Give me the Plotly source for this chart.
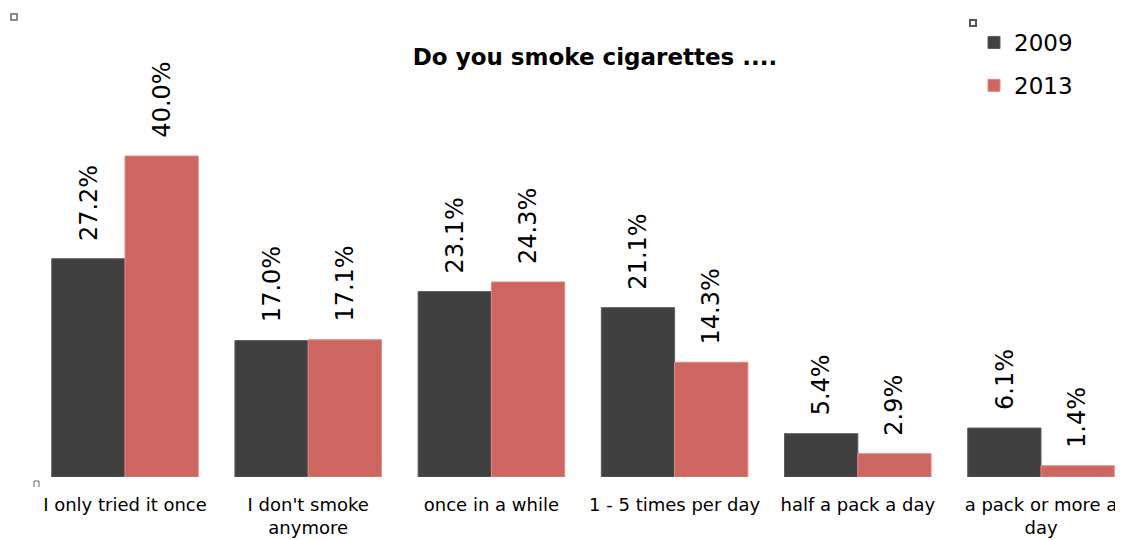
import plotly.graph_objects as go

categories = ["I only tried it once", "I don't smoke<br>anymore", "once in a while",
              "1 - 5 times per day", "half a pack a day", "a pack or more a<br>day"]
series_names = ["2009", "2013"]
values_2009 = [27.2, 17.0, 23.1, 21.1, 5.4, 6.1]
values_2013 = [40.0, 17.1, 24.3, 14.3, 2.9, 1.4]
title_text = "Do you smoke cigarettes ...."

colors = ["#404040", "#CD6660"]
edge_colors = ["#5c5c5c", "#dd8a85"]
FONT = "DejaVu Sans"

W, H = 1115, 532          # page body has an 8px margin
PLOT_H = 469              # plot area height (baseline)
PX_PER_CAT = 183.2
FIRST_CENTER = 117

xpos = list(range(len(categories)))
fig = go.Figure()
for i, (name, vals) in enumerate(zip(series_names, [values_2009, values_2013])):
    fig.add_trace(go.Bar(
        x=xpos, y=vals, name=name, legendgroup=name,
        marker=dict(color=colors[i], line=dict(color=edge_colors[i], width=1)),
        hoverinfo="skip",
    ))

annotations = []
for i, vals in enumerate([values_2009, values_2013]):
    off = -0.2 if i == 0 else 0.2
    for xi, v in zip(xpos, vals):
        annotations.append(dict(
            x=xi + off, y=v, xref="x", yref="y", text=f"{v:.1f}%",
            showarrow=False, textangle=-90, yanchor="bottom", xanchor="center",
            yshift=16, font=dict(family=FONT, size=24, color="#000000"),
        ))

def px(x):
    return x / W

def py(y):
    return (PLOT_H - y) / PLOT_H

fig.update_layout(
    width=W, height=H,
    margin=dict(l=0, r=0, t=0, b=H - PLOT_H),
    paper_bgcolor="white", plot_bgcolor="white",
    barmode="group", bargap=0.2, bargroupgap=0,
    title=dict(text=f"<b>{title_text}</b>", x=(595 - 8) / W, xanchor="center",
               y=1 - 49 / H, yanchor="middle",
               font=dict(family=FONT, size=23, color="#000000")),
    showlegend=True,
    legend=dict(x=966 / W, xanchor="left", y=py(13), yref="paper", yanchor="top",
                font=dict(family=FONT, size=23, color="#000000"),
                traceorder="grouped", tracegroupgap=10,
                itemwidth=30, bgcolor="rgba(0,0,0,0)"),
    annotations=annotations,
    xaxis=dict(range=[-FIRST_CENTER / PX_PER_CAT, (W - FIRST_CENTER) / PX_PER_CAT],
               tickvals=xpos, ticktext=categories,
               showgrid=False, zeroline=False, showline=False, ticks="",
               ticklabelstandoff=15,
               tickfont=dict(family=FONT, size=18, color="#000000"), automargin=False),
    yaxis=dict(range=[0, PLOT_H / 8.025], visible=False, showgrid=False, zeroline=False,
               automargin=False),
    shapes=[
        dict(type="rect", xref="paper", yref="paper", x0=px(3), x1=px(9),
             y0=py(12), y1=py(6), line=dict(color="#666666", width=1.5)),
        dict(type="rect", xref="paper", yref="paper", x0=px(962), x1=px(968),
             y0=py(18), y1=py(12), line=dict(color="#555555", width=2)),
        dict(type="path", xref="paper", yref="paper",
             path=f"M {px(26)} {py(479)} L {px(26)} {py(473)} L {px(31)} {py(473)} L {px(31)} {py(479)}",
             line=dict(color="#666666", width=1)),
    ],
)

fig.write_html("out.html")
